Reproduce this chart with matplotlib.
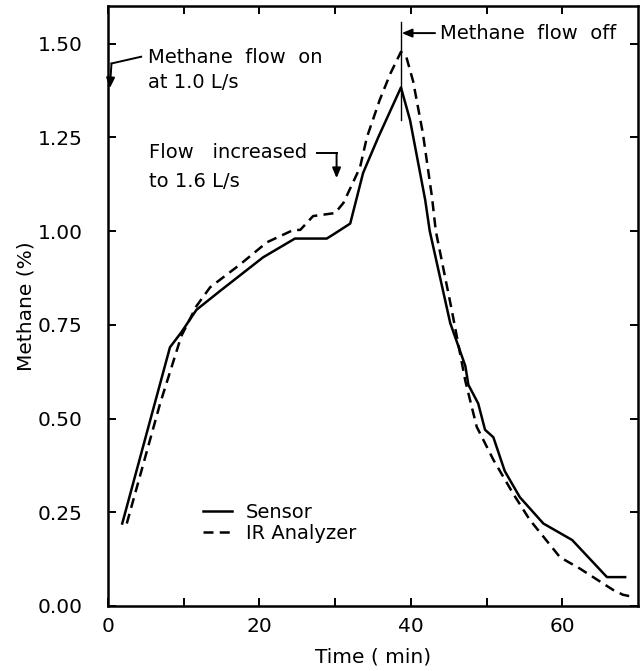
import matplotlib
matplotlib.use("Agg")
import matplotlib.pyplot as plt

# ------------------------------------------------------------------
# Data (time in min, methane in %)
# ------------------------------------------------------------------
sensor_t = [1.9, 8.2, 9.7, 11.7, 14.8, 20.5, 24.7, 28.9, 29.7, 32.0, 33.7,
            35.7, 38.7, 39.9, 41.9, 42.5, 45.2, 47.2, 47.6, 48.9, 49.8,
            50.9, 52.4, 54.4, 57.5, 61.3, 65.9, 68.3]
sensor_ch4 = [0.22, 0.69, 0.73, 0.79, 0.84, 0.93, 0.98, 0.98, 0.99, 1.02, 1.155,
              1.25, 1.383, 1.296, 1.083, 1.00, 0.755, 0.64, 0.59, 0.54, 0.47,
              0.45, 0.36, 0.29, 0.22, 0.176, 0.077, 0.077]

ir_t = [2.5, 6.9, 9.7, 11.7, 13.5, 17.4, 21.0, 24.5, 25.4, 27.1, 30.0, 31.1,
        33.3, 34.2, 35.9, 37.3, 38.7, 39.4, 40.3, 41.6, 42.8, 43.3, 45.4,
        47.2, 48.7, 50.9, 53.5, 55.7, 59.7, 62.3, 66.7, 68.0, 69.4]
ir_ch4 = [0.22, 0.54, 0.72, 0.80, 0.85, 0.91, 0.97, 1.003, 1.003, 1.04, 1.048, 1.075,
          1.17, 1.25, 1.35, 1.42, 1.478, 1.465, 1.40, 1.26, 1.09, 1.00, 0.79,
          0.60, 0.478, 0.39, 0.30, 0.23, 0.13, 0.10, 0.043, 0.03, 0.024]

x_ticks = [0, 10, 20, 30, 40, 50, 60]
x_tick_labels = ["0", "", "20", "", "40", "", "60"]
y_ticks = [0.0, 0.25, 0.50, 0.75, 1.00, 1.25, 1.50]
y_tick_labels = ["0.00", "0.25", "0.50", "0.75", "1.00", "1.25", "1.50"]

FONT = "DejaVu Sans"
FS = 14
LW = 1.8

fig = plt.figure(figsize=(6.42, 6.71), dpi=100)
ax = fig.add_axes([0.168, 0.0969, 0.8258, 0.894])

ax.plot(sensor_t, sensor_ch4, color="black", lw=LW, label="Sensor")
ax.plot(ir_t, ir_ch4, color="black", lw=LW, dashes=(4, 2.5), label="IR Analyzer")

ax.set_xlim(0, 70)
ax.set_ylim(0, 1.6)
ax.set_xticks(x_ticks)
ax.set_xticklabels(x_tick_labels, fontsize=14.5, family=FONT)
ax.set_yticks(y_ticks)
ax.set_yticklabels(y_tick_labels, fontsize=14.5, family=FONT)
ax.tick_params(direction="in", length=6, width=1.4, top=True, right=True)
ax.tick_params(axis="y", pad=18)
ax.tick_params(axis="x", pad=8)
for sp in ax.spines.values():
    sp.set_linewidth(1.8)

ax.set_xlabel("Time ( min)", fontsize=14.5, family=FONT, labelpad=8)
ax.set_ylabel("Methane (%)", fontsize=14.5, family=FONT, labelpad=2)

# ------------------------------------------------------------------
# Annotations
# ------------------------------------------------------------------
head = dict(arrowstyle="-|>,head_width=0.25,head_length=0.6", color="black",
            lw=1.4, shrinkA=0, shrinkB=0)

ax.text(5.3, 1.464, "Methane  flow  on", fontsize=FS, family=FONT, va="center")
ax.text(5.3, 1.395, "at 1.0 L/s", fontsize=FS, family=FONT, va="center")
ax.plot([4.4, 0.48], [1.465, 1.447], color="black", lw=1.4)
ax.annotate("", xy=(0.26, 1.381), xytext=(0.48, 1.447), arrowprops=head)

ax.text(5.4, 1.209, "Flow   increased", fontsize=FS, family=FONT, va="center")
ax.text(5.4, 1.133, "to 1.6 L/s", fontsize=FS, family=FONT, va="center")
ax.plot([27.6, 30.2], [1.208, 1.208], color="black", lw=1.4)
ax.annotate("", xy=(30.2, 1.141), xytext=(30.2, 1.208), arrowprops=head)

ax.plot([38.7, 38.7], [1.296, 1.557], color="black", lw=1.0)
ax.text(43.9, 1.528, "Methane  flow  off", fontsize=FS, family=FONT, va="center")
ax.annotate("", xy=(38.8, 1.528), xytext=(43.2, 1.528), arrowprops=head)

ax.legend(loc="upper left", bbox_to_anchor=(0.179, 0.172), frameon=False,
          handlelength=1.5, handletextpad=0.7, labelspacing=0.1,
          borderaxespad=0, borderpad=0, prop={"family": FONT, "size": FS})

fig.savefig("out.png", dpi=100)
